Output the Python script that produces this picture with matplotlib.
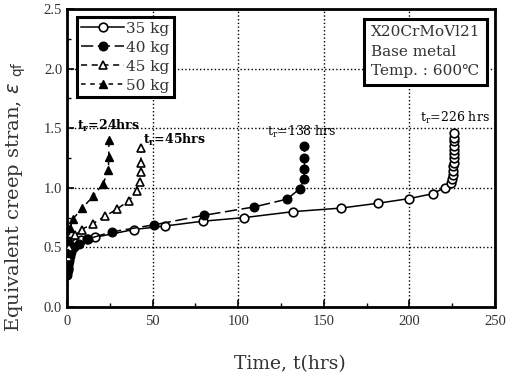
import numpy as np
import matplotlib.pyplot as plt
from matplotlib.ticker import MultipleLocator

# 35 kg
t35 = [0.2, 0.4, 0.7, 1, 1.5, 2, 3, 5, 8, 11.6, 16.4, 39, 57.5, 79.4, 103.5, 132, 160, 181.4, 200,
       213.5, 220.5, 224, 225.0, 225.3, 225.5, 225.7, 225.8, 225.9, 226, 226, 226, 226, 226, 226]
e35 = [0.29, 0.33, 0.37, 0.41, 0.45, 0.48, 0.51, 0.54, 0.56, 0.57, 0.585, 0.65, 0.68, 0.72, 0.75, 0.80, 0.83, 0.87, 0.91,
       0.95, 1.0, 1.04, 1.07, 1.11, 1.14, 1.18, 1.21, 1.25, 1.28, 1.32, 1.35, 1.39, 1.42, 1.46]
# 40 kg
t40 = [0.2, 0.4, 0.7, 1, 1.5, 2.5, 4, 7, 12, 26, 51, 80.3, 109.4, 128.5, 135.8, 138.5, 138.7, 138.7, 138.7]
e40 = [0.27, 0.31, 0.35, 0.39, 0.43, 0.46, 0.50, 0.53, 0.57, 0.63, 0.69, 0.77, 0.84, 0.905, 0.99, 1.07, 1.16, 1.25, 1.35]
# 45 kg
t45 = [0.3, 1, 2, 4.6, 8.5, 15.2, 22, 29, 36, 40.8, 42.5, 43, 43.2, 43.2]
e45 = [0.42, 0.50, 0.55, 0.60, 0.65, 0.70, 0.76, 0.82, 0.89, 0.97, 1.05, 1.13, 1.21, 1.33]
# 50 kg
t50 = [0.3, 1, 1.8, 3.5, 9, 15.2, 21, 24.2, 24.4, 24.5]
e50 = [0.45, 0.55, 0.66, 0.74, 0.83, 0.93, 1.03, 1.15, 1.26, 1.40]

txtc = '#333333'
fig = plt.figure(figsize=(5.13, 3.76), dpi=100)
ax = fig.add_axes([0.1306, 0.1835, 0.8344, 0.7925])

ms = 6.2
ax.plot(t35, e35, '-', color='black', lw=1.1, marker='o', mfc='white', mec='black', mew=1.2, ms=ms, label='35 kg', zorder=3)
ax.plot(t40, e40, '-', color='black', lw=1.1, dashes=(8, 3), marker='o', mfc='black', mec='black', ms=ms, label='40 kg', zorder=3)
ax.plot(t45, e45, '-', color='black', lw=1.1, dashes=(4, 3), marker='^', mfc='white', mec='black', mew=1.2, ms=ms, label='45 kg', zorder=3)
ax.plot(t50, e50, '-', color='black', lw=1.1, dashes=(3, 3), marker='^', mfc='black', mec='black', ms=ms, label='50 kg', zorder=3)

ax.set_xlim(0, 250)
ax.set_ylim(0, 2.5)
ax.xaxis.set_major_locator(MultipleLocator(50))
ax.xaxis.set_minor_locator(MultipleLocator(25))
ax.yaxis.set_major_locator(MultipleLocator(0.5))
ax.yaxis.set_minor_locator(MultipleLocator(0.25))
ax.set_yticks(np.arange(0, 2.51, 0.5))
ax.set_yticklabels(['0.0', '0.5', '1.0', '1.5', '2.0', '2.5'])
ax.tick_params(which='both', direction='in', colors='black', labelcolor=txtc)
ax.tick_params(which='major', length=5, width=1.2)
ax.tick_params(axis='x', which='major', pad=6)
ax.tick_params(which='minor', length=3, width=1)
for lab in ax.get_xticklabels() + ax.get_yticklabels():
    lab.set_fontfamily('Liberation Serif')
    lab.set_fontsize(10.5)
ax.grid(True, which='major', color='black', ls=':', lw=1)
for s in ax.spines.values():
    s.set_linewidth(2)

ax.set_xlabel('Time, t(hrs)', family='DejaVu Serif', fontsize=13.5, color=txtc)
ax.set_ylabel(r'Equivalent creep stran, $\varepsilon$ $_{\rm qf}$', family='DejaVu Serif', fontsize=14, color=txtc)
ax.xaxis.set_label_coords(0.52, -0.16)
ax.yaxis.set_label_coords(-0.092, 0.37)

leg = ax.legend(loc='upper left', bbox_to_anchor=(0.023, 0.973), borderaxespad=0, fancybox=False,
                handlelength=2.8, labelspacing=0.33, handletextpad=0.1, borderpad=0.3,
                prop={'family': 'DejaVu Serif', 'size': 11})
leg.get_frame().set_edgecolor('black')
leg.get_frame().set_linewidth(2.2)
leg.get_frame().set_alpha(1)
for t in leg.get_texts():
    t.set_color(txtc)

ax.text(0.71, 0.945, 'X20CrMoVl21\nBase metal\nTemp. : 600\u2103', transform=ax.transAxes,
        ha='left', va='top', family='DejaVu Serif', fontsize=11, color=txtc, linespacing=1.5,
        bbox=dict(boxstyle='square,pad=0.45', fc='white', ec='black', lw=2.2), zorder=5)

ax.text(5.8, 1.52, r'$\mathregular{t_r}$=24hrs', family='DejaVu Serif', fontsize=9, fontweight='bold', va='center', color='black')
ax.text(44.4, 1.40, r'$\mathregular{t_r}$=45hrs', family='DejaVu Serif', fontsize=9, fontweight='bold', va='center', color='black')
ax.text(116.8, 1.47, r'$\mathregular{t_r}$=138 hrs', family='DejaVu Serif', fontsize=9, va='center', color='black')
ax.text(206, 1.585, r'$\mathregular{t_r}$=226 hrs', family='DejaVu Serif', fontsize=9, va='center', color='black')

fig.savefig('out.png', dpi=100)
